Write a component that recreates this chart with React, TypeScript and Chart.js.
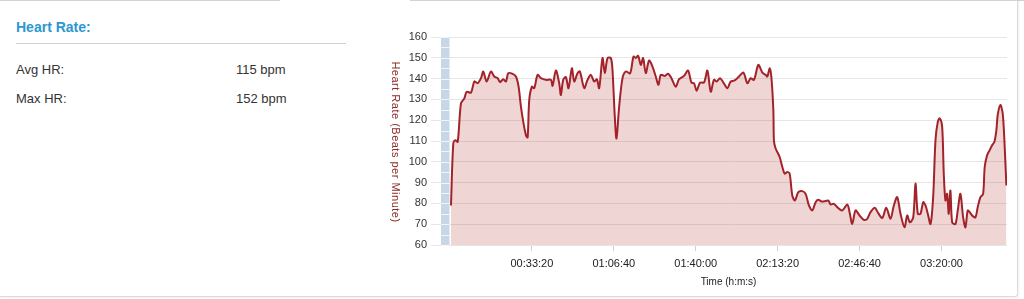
import React, { useEffect, useRef } from "react";
import { Chart, registerables } from "chart.js";

Chart.register(...registerables);

const FONT = "'Liberation Sans', Arial, Helvetica, sans-serif";

// Elapsed time in seconds
const times: number[] = [
  24, 80, 130, 188, 268, 350, 407, 512, 594, 675, 756, 813, 894, 1000, 1081, 1163, 1220, 1301, 1366, 1423,
  1529, 1610, 1675, 1732, 1789, 1854, 1895, 1935, 2000, 2057, 2139, 2220, 2341, 2463, 2504, 2585, 2667, 2707,
  2764, 2829, 2894, 2976, 3032, 3114, 3171, 3277, 3358, 3439, 3520, 3585, 3642, 3724, 3780, 3846, 3927, 3967,
  4024, 4065, 4130, 4212, 4293, 4399, 4480, 4537, 4594, 4659, 4715, 4780, 4861, 4944, 5024, 5090, 5146, 5244,
  5325, 5407, 5512, 5593, 5715, 5812, 5895, 5958, 6024, 6105, 6202, 6285, 6366, 6446, 6512, 6593, 6675, 6773,
  6854, 6951, 7056, 7163, 7261, 7341, 7422, 7529, 7627, 7707, 7749, 7805, 7846, 7895, 7910, 7951, 8049, 8115,
  8171, 8236, 8293, 8358, 8422, 8505, 8602, 8683, 8764, 8846, 8927, 8993, 9073, 9171, 9237, 9293, 9373, 9455,
  9578, 9700, 9756, 9822, 9902, 10000, 10105, 10187, 10268, 10373, 10456, 10554, 10651, 10756, 10837, 10919,
  11000, 11097, 11163, 11227, 11310, 11366, 11422, 11488, 11554, 11610, 11666, 11732, 11797, 11854, 11910,
  11958, 12017, 12056, 12097, 12139, 12178, 12219, 12261, 12341, 12397, 12463, 12529, 12585, 12641, 12690,
  12749, 12829, 12885, 12951, 13017, 13056, 13114, 13178, 13237, 13293, 13341, 13373, 13439, 13495, 13536, 13585,
];

// Heart rate in beats per minute
const heartRates: number[] = [
  79, 108.8, 110.4, 109.6, 128.1, 130.5, 133.7, 133.2, 138.6, 137.8, 140.2, 143.4, 138.6, 143.4, 141, 140.2, 138.3, 139.7, 138.6, 142.6,
  142.3, 141, 136.1, 126.5, 119.2, 112.8, 111.7, 129.7, 136.1, 135.4, 141.8, 140.2, 139.4, 139.4, 136.5, 143.9, 137.8, 132.1,
  139.4, 140.7, 135.4, 145, 138.6, 142.6, 143.4, 135.4, 139.4, 141.8, 138.6, 139.7, 135.4, 149.9, 142.6, 149.9, 149.9, 144.2,
  121.6, 111.2, 126.5, 140.2, 143.4, 142.6, 150.6, 149.9, 151, 146.6, 149.9, 142.6, 148.7, 145.8, 141, 137, 141.8, 141.3,
  142.3, 140.2, 136.1, 139.7, 141.3, 143.9, 138.1, 137.8, 134.2, 138.1, 138.1, 143.9, 133.7, 139.4, 138.6, 140.2, 138.1, 135.4,
  138.6, 139.1, 141, 142.9, 137.8, 140.2, 139.4, 146.6, 142.9, 141.8, 141, 145, 141, 124.9, 110, 106.4, 102.3, 97.5,
  94.3, 95.1, 94.3, 83.8, 81.4, 85.4, 85.9, 84.6, 79, 76.6, 80.6, 81.7, 80.9, 81.1, 81.4, 79.5, 79.8, 78.2,
  76.6, 79.5, 75.8, 70.1, 76.6, 74.2, 72.1, 72.6, 75.8, 77.9, 75.3, 73, 77.9, 72.6, 79, 83,
  75, 68.5, 74.2, 70.9, 73.3, 89.5, 75, 75, 80.6, 79, 75, 70.1, 83, 110.4, 119.2,
  120.9, 116.8, 94.3, 81.4, 84.6, 75, 86.2, 70.9, 70.1, 76.6, 84.6, 73.3, 68.5, 76.6, 75.8,
  74.2, 73.3, 78.2, 83, 84.6, 97.5, 103.1, 105.6, 108, 109.6, 115.2, 122.5, 127.3, 123.3, 110.4, 88.6,
];

const xTickValues: number[] = [2000, 4000, 6000, 8000, 10000, 12000];
const xTickLabels: string[] = ["00:33:20", "01:06:40", "01:40:00", "02:13:20", "02:46:40", "03:20:00"];

const yMin = 60;
const yMax = 160;
const yStep = 10;
const xMin = 0;
const xMax = 13600;

const panelTitle = "Heart Rate:";
const statLabels: string[] = ["Avg HR:", "Max HR:"];
const statValues: string[] = ["115 bpm", "152 bpm"];
const yTitle = "Heart Rate (Beats per Minute)";
const xTitle = "Time (h:m:s)";

const decorPlugin = {
  id: "hrDecor",
  beforeDatasetsDraw(chart: any) {
    const { ctx, chartArea, scales } = chart;
    const ys = scales.y;
    ctx.save();
    const x0 = chartArea.left - 9;
    ctx.fillStyle = "#c7d7e5";
    ctx.fillRect(x0, chartArea.top, 8.5, chartArea.bottom - chartArea.top);
    ctx.strokeStyle = "rgba(255,255,255,0.75)";
    ctx.lineWidth = 1;
    for (let v = yMin; v <= yMax; v += yStep / 2) {
      const py = Math.round(ys.getPixelForValue(v)) + 0.5;
      ctx.beginPath();
      ctx.moveTo(x0, py);
      ctx.lineTo(x0 + 8.5, py);
      ctx.stroke();
    }
    ctx.restore();
  },
  afterDraw(chart: any) {
    const { ctx, chartArea } = chart;
    ctx.save();
    ctx.translate(chartArea.left - 55, (chartArea.top + chartArea.bottom) / 2 + 1);
    ctx.rotate(Math.PI / 2);
    ctx.font = `11px ${FONT}`;
    try {
      (ctx as any).letterSpacing = "0.5px";
    } catch (e) {
      /* ignore */
    }
    ctx.fillStyle = "#8e2a2a";
    ctx.textAlign = "center";
    ctx.textBaseline = "middle";
    ctx.fillText(yTitle, 0, 0);
    ctx.restore();
  },
};

export default function App() {
  const ref = useRef<HTMLCanvasElement>(null);

  useEffect(() => {
    const points = times.map((t, i) => ({ x: t, y: heartRates[i] }));
    const chart = new Chart(ref.current as HTMLCanvasElement, {
      type: "line",
      data: {
        datasets: [
          {
            data: points,
            borderColor: "#a2232a",
            borderWidth: 2,
            backgroundColor: "rgba(190,75,75,0.23)",
            fill: "start",
            pointRadius: 0,
            tension: 0.3,
          },
        ],
      },
      options: {
        responsive: false,
        animation: false,
        events: [],
        layout: { padding: { top: 37, right: 10, left: 0, bottom: 0 } },
        plugins: { legend: { display: false }, tooltip: { enabled: false } },
        scales: {
          x: {
            type: "linear",
            min: xMin,
            max: xMax,
            afterFit: (s: any) => {
              s.height = 51;
            },
            afterBuildTicks: (s: any) => {
              s.ticks = xTickValues.map((v) => ({ value: v }));
            },
            border: { display: false },
            grid: { drawOnChartArea: false, drawTicks: true, tickLength: 6, color: "#cfcfcf" },
            ticks: {
              autoSkip: false,
              maxRotation: 0,
              padding: 6,
              color: "#222",
              font: { family: FONT, size: 11 },
              callback: (v: any) => {
                const i = xTickValues.indexOf(Number(v));
                return i >= 0 ? xTickLabels[i] : null;
              },
            },
            title: {
              display: true,
              text: xTitle,
              color: "#222",
              font: { family: FONT, size: 10 },
              padding: { top: 0, bottom: 8 },
            },
          },
          y: {
            min: yMin,
            max: yMax,
            afterFit: (s: any) => {
              s.width = 70;
            },
            border: { display: false },
            grid: { color: "#e6e6e6", drawTicks: true, tickLength: 19 },
            ticks: {
              stepSize: yStep,
              padding: 4,
              color: "#333",
              font: { family: FONT, size: 11 },
            },
          },
        },
      },
      plugins: [decorPlugin],
    } as any);
    return () => chart.destroy();
  }, []);

  return (
    <div
      style={{
        position: "fixed",
        left: 0,
        top: 0,
        width: 1024,
        height: 299,
        background: "#fff",
        fontFamily: FONT,
        overflow: "hidden",
      }}
    >
      <div style={{ position: "absolute", left: 0, top: 0, width: 280, height: 1, background: "#d2d2d2" }} />
      <div style={{ position: "absolute", left: 410, top: 0, width: 614, height: 1, background: "#d2d2d2" }} />
      <div
        style={{
          position: "absolute",
          left: -2,
          top: -2,
          width: 1020,
          height: 299,
          boxSizing: "border-box",
          borderRight: "1px solid #dadada",
          borderBottom: "1px solid #dadada",
          borderBottomRightRadius: 3,
          boxShadow: "1px 1px 2px rgba(0,0,0,0.06)",
        }}
      />
      <div
        style={{
          position: "absolute",
          left: 16,
          top: 20,
          fontSize: 14,
          lineHeight: "14px",
          fontWeight: "bold",
          color: "#2b98cf",
          whiteSpace: "nowrap",
        }}
      >
        {panelTitle}
      </div>
      <div style={{ position: "absolute", left: 16, top: 43, width: 330, height: 1, background: "#c9d3dc" }} />
      {statLabels.map((label, i) => (
        <React.Fragment key={label}>
          <div
            style={{
              position: "absolute",
              left: 16,
              top: 63 + i * 29.3,
              fontSize: 13,
              lineHeight: "13px",
              color: "#333",
              whiteSpace: "nowrap",
            }}
          >
            {label}
          </div>
          <div
            style={{
              position: "absolute",
              left: 236,
              top: 63 + i * 29.3,
              fontSize: 13,
              lineHeight: "13px",
              color: "#333",
              whiteSpace: "nowrap",
            }}
          >
            {statValues[i]}
          </div>
        </React.Fragment>
      ))}
      <canvas
        ref={ref}
        width={637}
        height={296}
        style={{ position: "absolute", left: 380, top: 0, width: 637, height: 296 }}
      />
    </div>
  );
}
